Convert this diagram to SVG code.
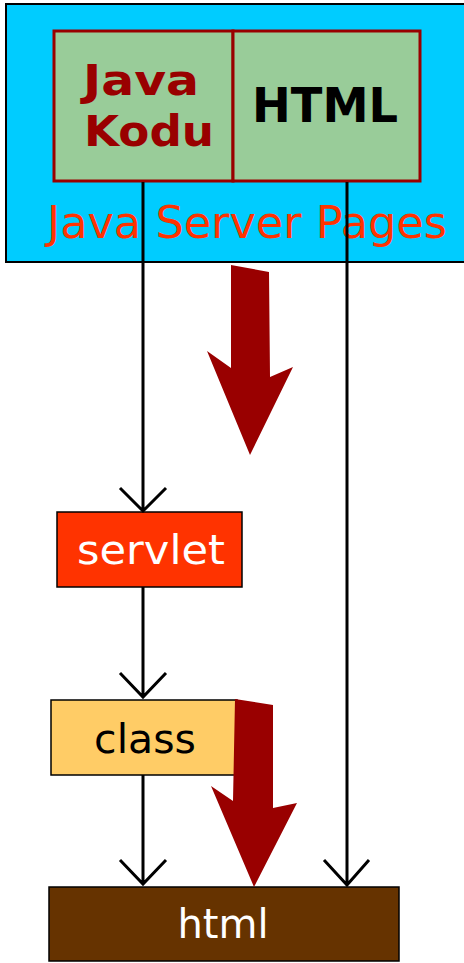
<svg xmlns="http://www.w3.org/2000/svg" width="464" height="963" viewBox="0 0 464 963">
<style>
.box{stroke:#000;stroke-width:1.5}
.cell{fill:#99cc99;stroke:#990000;stroke-width:3}
.t{font-family:"DejaVu Sans","Verdana",sans-serif;text-anchor:middle}
.b{font-weight:bold}
.line{stroke:#000;stroke-width:3;fill:none}
.big{fill:#990000}
</style>
<g id="jsp">
<rect x="6" y="4" width="462" height="258" fill="#00ccff" stroke="#000" stroke-width="2"/>
<text class="t" x="247" y="238" font-size="44" fill="#ff3300" textLength="400" lengthAdjust="spacingAndGlyphs">Java Server Pages</text>
</g>
<g id="java-kodu">
<rect class="cell" x="54" y="31" width="179" height="150"/>
<text class="t b" x="141" y="95" font-size="43" fill="#990000" textLength="116" lengthAdjust="spacingAndGlyphs">Java</text>
<text class="t b" x="149" y="146" font-size="43" fill="#990000" textLength="130" lengthAdjust="spacingAndGlyphs">Kodu</text>
</g>
<g id="html-cell">
<rect class="cell" x="233" y="31" width="187" height="150"/>
<text class="t b" x="325" y="122" font-size="48" fill="#000" textLength="146" lengthAdjust="spacingAndGlyphs">HTML</text>
</g>
<g id="servlet">
<rect class="box" x="57" y="512" width="185" height="75" fill="#ff3300"/>
<text class="t" x="151" y="564" font-size="41" fill="#fff" textLength="148" lengthAdjust="spacingAndGlyphs">servlet</text>
</g>
<g id="class">
<rect class="box" x="51" y="700" width="186" height="75" fill="#ffcc66"/>
<text class="t" x="145" y="753" font-size="41" fill="#000">class</text>
</g>
<g id="html">
<rect class="box" x="49" y="887" width="350" height="74" fill="#663300"/>
<text class="t" x="223" y="938" font-size="40" fill="#fff">html</text>
</g>
<g id="connectors">
<path class="line" d="M143 182V511M120 488L143 511L166 488"/>
<path class="line" d="M143 587V697M120 673L143 697L166 673"/>
<path class="line" d="M143 775V884M120 860L143 884L166 860"/>
<path class="line" d="M347 182V885M324 860L347 885L369 860"/>
<polygon class="big" points="231,265 269,272 270,377 293,367 250,455 207,351 231,368"/>
<polygon class="big" points="235,699 273,705 273,808 297,803 254,887 211,786 233,801"/>
</g>
</svg>
